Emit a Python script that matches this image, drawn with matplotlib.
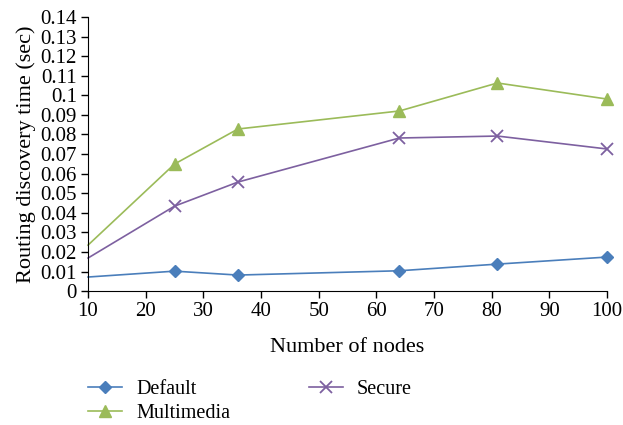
"""Routing discovery time versus number of nodes."""

from matplotlib import pyplot as plt

nodes = [10, 25, 36, 64, 81, 100]
default_time = [0.0072, 0.0102, 0.0082, 0.0104, 0.0138, 0.0174]
secure_time = [0.0169, 0.0434, 0.0557, 0.0782, 0.0792, 0.0726]
multimedia_time = [0.0235, 0.0649, 0.0828, 0.0920, 0.1063, 0.0981]

plt.rcParams['font.family'] = ['Liberation Serif', 'DejaVu Serif']

fig = plt.figure(figsize=(6.23, 4.25), dpi=100)
ax = fig.add_axes([0.1413, 0.315, 0.833, 0.645])

marks = list(range(1, len(nodes)))
l1, = ax.plot(nodes, default_time, color='#4a7ebb', lw=1.2, marker='D',
              ms=6.5, markevery=marks, clip_on=False)
l2, = ax.plot(nodes, secure_time, color='#7d60a0', lw=1.2, marker='x',
              ms=9, mew=1.3, markevery=marks, clip_on=False)
l3, = ax.plot(nodes, multimedia_time, color='#9bbb59', lw=1.2, marker='^',
              ms=9, markevery=marks, clip_on=False)

ax.set_xlim(10, 100)
ax.set_ylim(0, 0.14)
ax.set_xticks(range(10, 101, 10))
ax.set_yticks([i / 100 for i in range(15)])
ax.set_yticklabels(['0'] + ['%g' % (i / 100) for i in range(1, 15)])
ax.tick_params(labelsize=15, direction='out', length=5, width=1, pad=3)
ax.spines['top'].set_visible(False)
ax.spines['right'].set_visible(False)
ax.set_xlabel('Number of nodes', fontsize=16, labelpad=12)
ax.set_ylabel('Routing discovery time (sec)', fontsize=16, labelpad=3)

fig.legend([l1, l3, l2], ['Default', 'Multimedia', 'Secure'], ncol=2,
           loc='upper left', bbox_to_anchor=(0.141, 0.107), frameon=False,
           fontsize=14.5, handlelength=1.7, columnspacing=3.9,
           labelspacing=0.25, handletextpad=0.7, borderaxespad=0,
           borderpad=0)

fig.savefig('out.png', dpi=100)
